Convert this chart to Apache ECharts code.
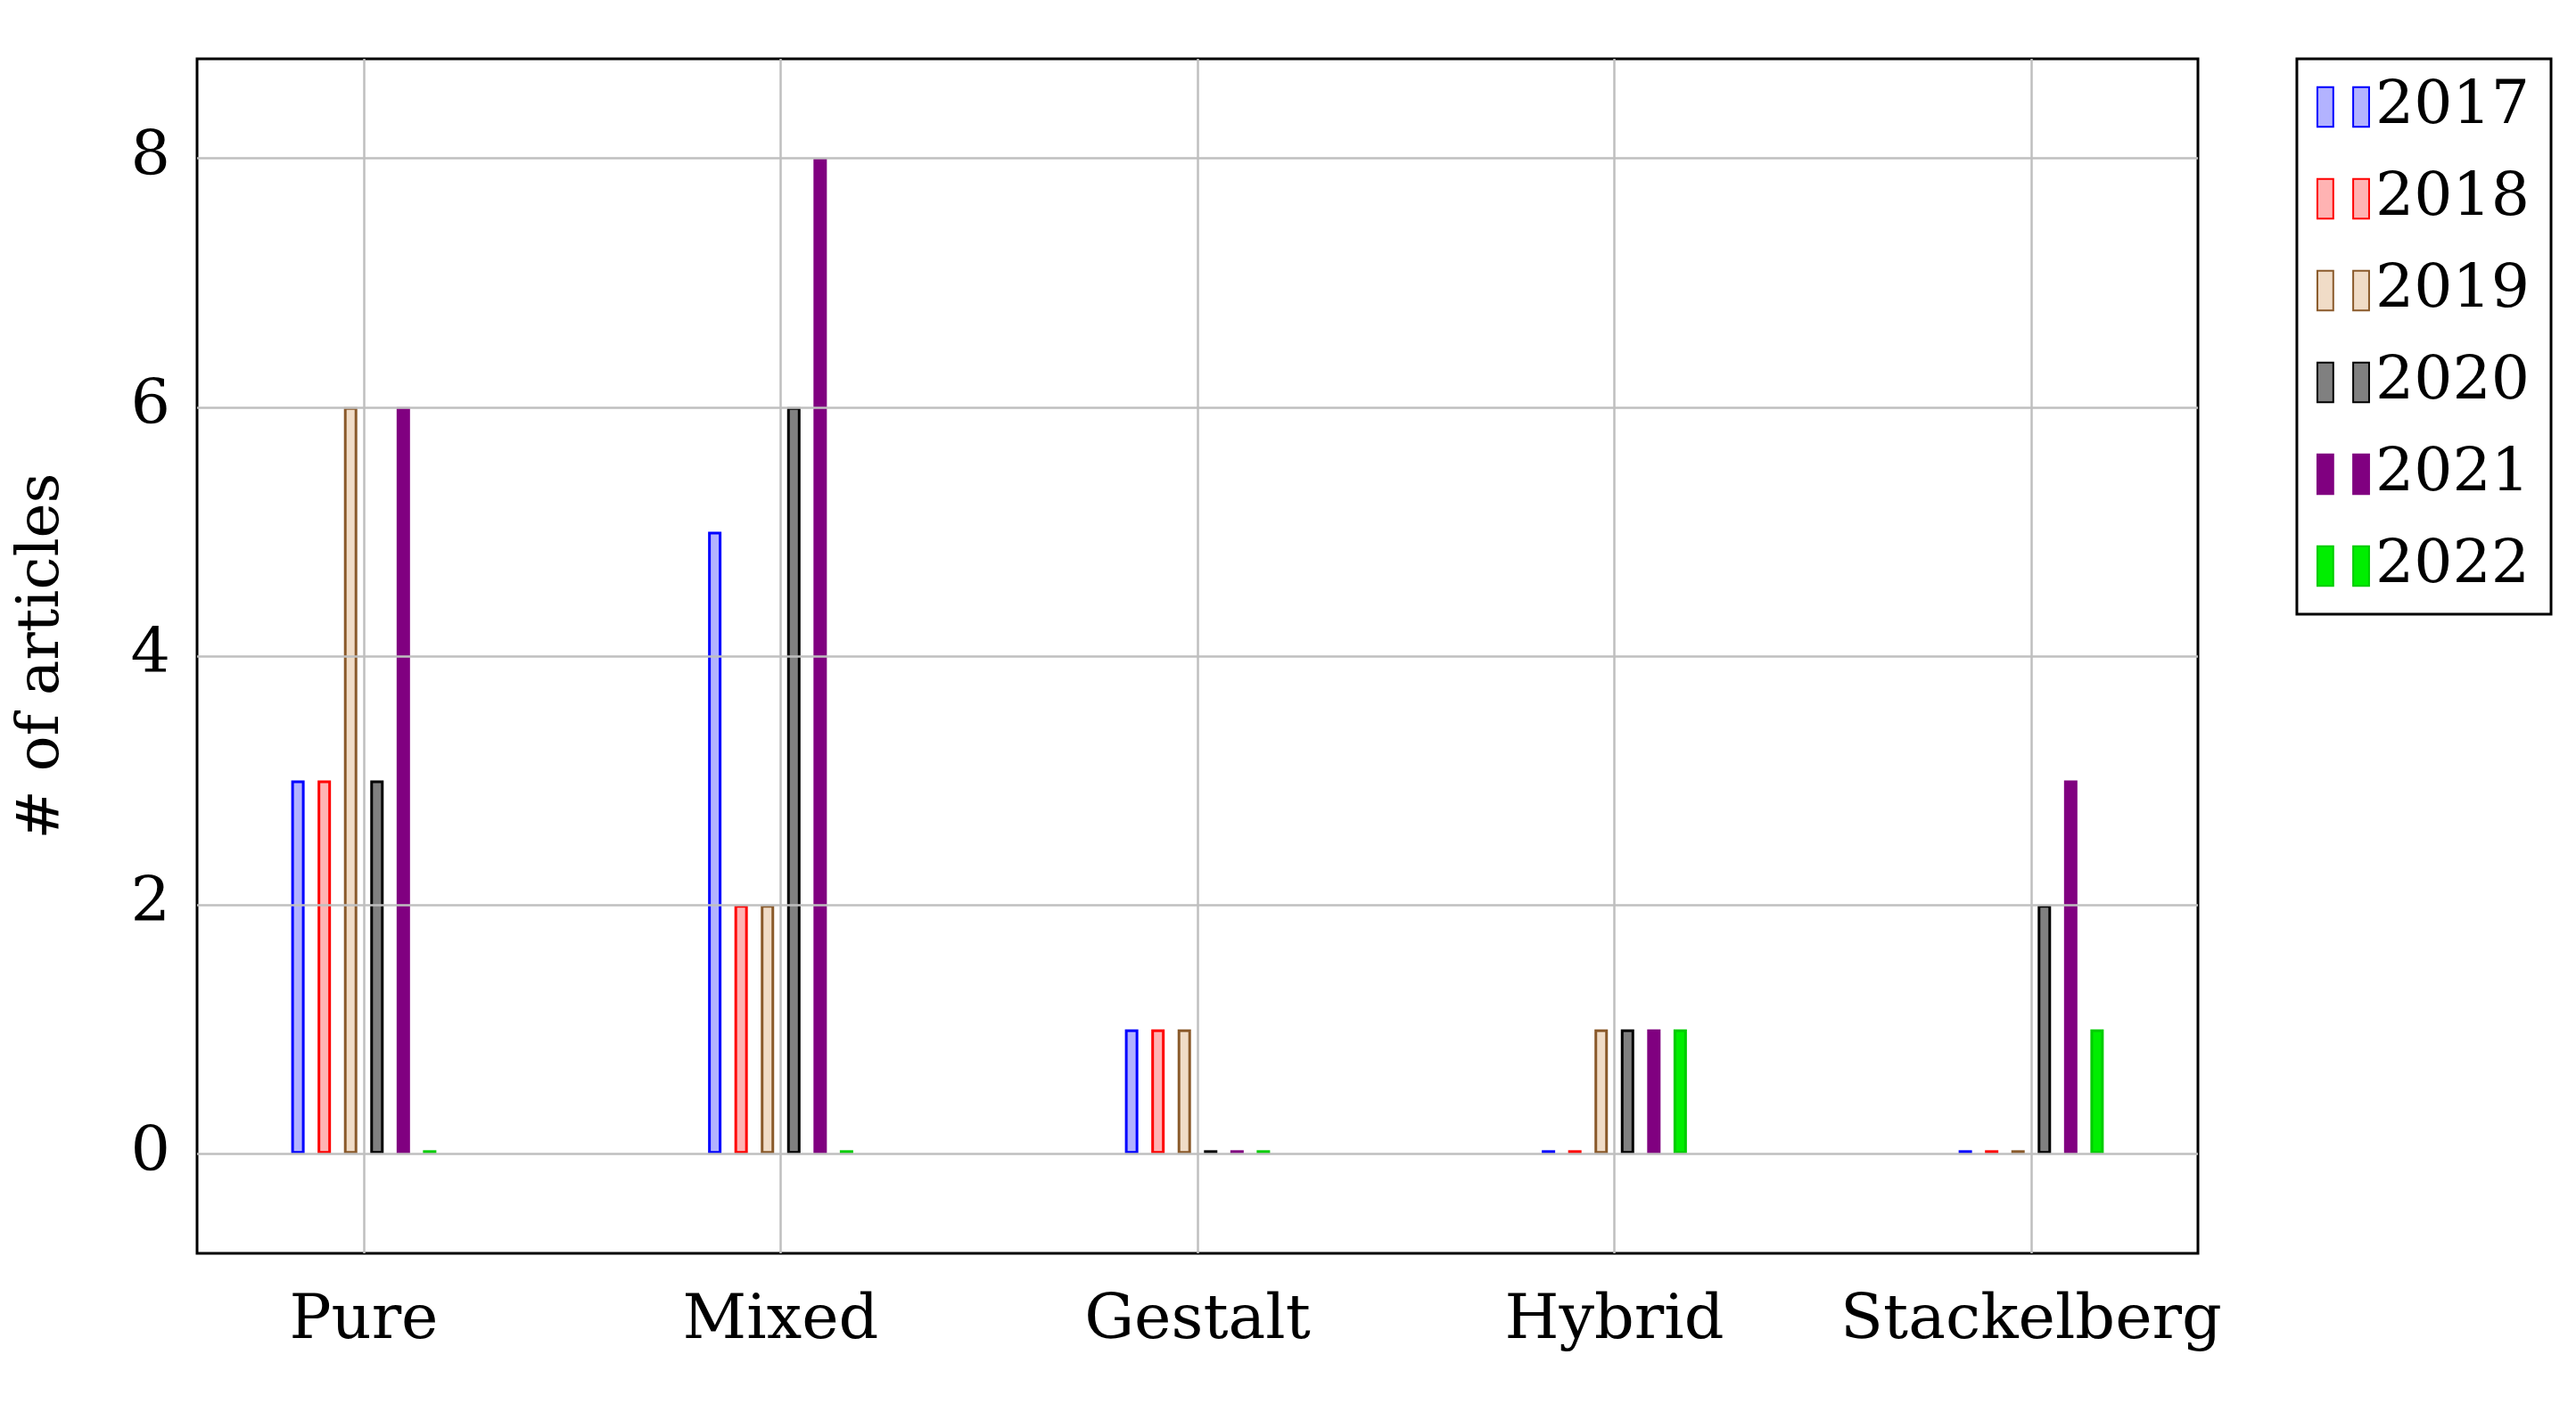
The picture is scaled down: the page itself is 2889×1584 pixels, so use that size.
<!DOCTYPE html>
<html><head><meta charset="utf-8">
<script src="https://cdn.jsdelivr.net/npm/echarts@6/dist/echarts.min.js"></script>
<style>html,body{margin:0;background:#fff}#c{width:2889px;height:1584px}</style>
</head><body><div id="c"></div>
<script>
const categories = ['Pure','Mixed','Gestalt','Hybrid','Stackelberg'];
const years = ['2017','2018','2019','2020','2021','2022'];
const v2017 = [3,5,1,0,0];
const v2018 = [3,2,1,0,0];
const v2019 = [6,2,1,1,0];
const v2020 = [3,6,0,1,2];
const v2021 = [6,8,0,1,3];
const v2022 = [0,0,0,1,1];
const yTicks = [0,2,4,6,8];
const values = [v2017,v2018,v2019,v2020,v2021,v2022];
const fills = ['#b3b3ff','#ffb3b3','#f0dcc7','#808080','#800080','#00ee00'];
const borders = ['#0000ff','#ff0000','#8a5a2b','#000000','#800080','#00cc00'];
const font = 'DejaVu Serif';
const series = years.map((y,i)=>({
  name:y, type:'bar', barWidth:15, barGap:'97%', barMinHeight:4,
  data: values[i].map((v,j)=>[j,v]),
  itemStyle:{color:fills[i], borderColor:borders[i], borderWidth:3},
  z:3
}));
series.push({type:'line', data:[], silent:true,
  markLine:{symbol:'none', silent:true, label:{show:false},
    lineStyle:{color:'#bfbfbf', type:'solid', width:2.5},
    data:[...categories.map((c,j)=>({xAxis:j})), ...yTicks.map(t=>({yAxis:t}))]}
});
const chart = echarts.init(document.getElementById('c'));
chart.setOption({
  animation:false,
  grid:{left:221, right:424, top:66, bottom:178, show:true, borderColor:'#000', borderWidth:3},
  xAxis:{type:'value', min:-0.4, max:4.4,
    axisLine:{show:false}, splitLine:{show:false},
    axisTick:{show:false},
    axisLabel:{customValues:[0,1,2,3,4], formatter:v=>categories[Math.round(v)], fontFamily:font, fontSize:70, color:'#000', margin:42}
  },
  yAxis:{type:'value', min:-0.8, max:8.8,
    name:'# of articles', nameLocation:'middle', nameGap:140, nameRotate:90,
    nameTextStyle:{fontFamily:font, fontSize:66, color:'#000'},
    axisLine:{show:false}, splitLine:{show:false}, axisTick:{show:false},
    axisLabel:{customValues:yTicks, fontFamily:font, fontSize:70, color:'#000', margin:30}
  },
  legend:{orient:'vertical', right:28, top:66, padding:[20,24,20,22],
    borderColor:'#000', borderWidth:3, backgroundColor:'#fff',
    itemWidth:58, itemHeight:66, itemGap:35,
    icon:'path://M0,0h4v10h-4zM9,0h4v10h-4z',
    textStyle:{fontFamily:font, fontSize:68, color:'#000', padding:[0,0,0,2]},
    data:years
  },
  series
});
</script></body></html>
